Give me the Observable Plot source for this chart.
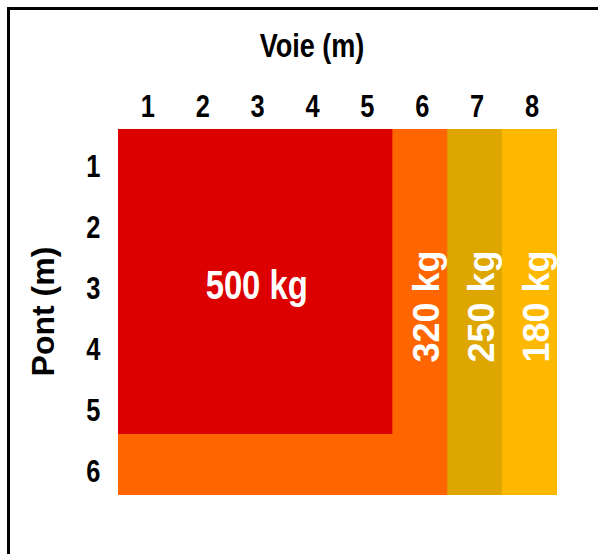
<!DOCTYPE html>
<html>
<head>
<meta charset="utf-8">
<script src="https://cdn.jsdelivr.net/npm/d3@7"></script>
<script src="https://cdn.jsdelivr.net/npm/@observablehq/plot@0.6"></script>
<style>
  html, body { margin: 0; padding: 0; background: #fff; }
  #wrap { position: relative; width: 598px; height: 554px; overflow: hidden; }
  #frame { position: absolute; left: 7px; top: 7px; width: 700px; height: 700px;
           border-top: 3px solid #000; border-left: 3px solid #000; pointer-events: none; }
  #chart { position: absolute; left: 0; top: 0; }
</style>
</head>
<body>
<div id="wrap"><div id="chart"></div><div id="frame"></div></div>
<script>
// Categories
const voie = [1, 2, 3, 4, 5, 6, 7, 8];          // Voie (m)
const pont = [1, 2, 3, 4, 5, 6];                // Pont (m)
// Load zones (drawn outermost first)
const zoneLabels  = ["180 kg", "250 kg", "320 kg", "500 kg"];
const zoneVoieMax = [8, 7, 6, 5];
const zonePontMax = [6, 6, 6, 5];
const zoneColors  = ["#FFB800", "#DEA600", "#FF6600", "#DC0000"];

const zones = zoneLabels.map((label, i) => ({
  label, voieMax: zoneVoieMax[i], pontMax: zonePontMax[i], color: zoneColors[i]
}));
const inner = zones[zones.length - 1];
const strips = zones.slice(0, -1);

const font = "'Liberation Sans', Arial, sans-serif";
const vMin = d3.min(voie), vMax = d3.max(voie), pMin = d3.min(pont), pMax = d3.max(pont);

const chart = Plot.plot({
  width: 598,
  height: 554,
  marginLeft: 118,
  marginRight: 41,
  marginTop: 129,
  marginBottom: 59,
  style: { fontFamily: font, color: "#000", background: "transparent" },
  x: { domain: [vMin - 0.5, vMax + 0.5], axis: null },
  y: { domain: [pMin - 0.5, pMax + 0.5], reverse: true, axis: null },
  marks: [
    Plot.rect(zones, {
      x1: vMin - 0.5, x2: d => d.voieMax + 0.5,
      y1: pMin - 0.5, y2: d => d.pontMax + 0.5,
      fill: d => d.color
    }),
    // horizontal label in the inner zone
    Plot.text([inner], {
      x: d => (vMin + d.voieMax) / 2,
      y: d => (pMin + d.pontMax) / 2,
      text: "label", fill: "white", fontWeight: "bold",
      fontSize: 40, dx: 1, dy: 4
    }),
    // vertical labels in the strips
    Plot.text(strips, {
      x: "voieMax",
      y: (pMin + pMax) / 2,
      text: "label", fill: "white", fontWeight: "bold",
      fontSize: 36, rotate: -90, dx: 7, dy: -6
    }),
    Plot.axisX(voie, {
      anchor: "top", tickSize: 0, tickPadding: 13, label: null,
      tickFormat: d3.format("d"),
      fontSize: 31, fontWeight: "bold", dx: 2
    }),
    Plot.axisY(pont, {
      anchor: "left", tickSize: 0, tickPadding: 18, label: null,
      tickFormat: d3.format("d"),
      fontSize: 31, fontWeight: "bold", dy: 7
    }),
    Plot.text(["Voie (m)"], {
      frameAnchor: "top", text: d => d, fontSize: 33, fontWeight: "bold",
      textAnchor: "middle", lineAnchor: "middle",
      fill: "#000", dx: -26, dy: -83
    }),
    Plot.text(["Pont (m)"], {
      frameAnchor: "left", text: d => d, fontSize: 32, fontWeight: "bold",
      textAnchor: "middle", lineAnchor: "middle",
      fill: "#000", rotate: -90, dx: -75, dy: -1
    })
  ]
});
document.getElementById("chart").appendChild(chart);

// Horizontal texts in the reference are condensed: narrow the glyphs.
chart.querySelectorAll("text").forEach(t => {
  const tr = t.getAttribute("transform") || "";
  if (tr.includes("rotate")) return;
  const w = t.getComputedTextLength();
  if (w > 0) {
    t.setAttribute("textLength", (w * 0.82).toFixed(2));
    t.setAttribute("lengthAdjust", "spacingAndGlyphs");
  }
});
</script>
</body>
</html>
